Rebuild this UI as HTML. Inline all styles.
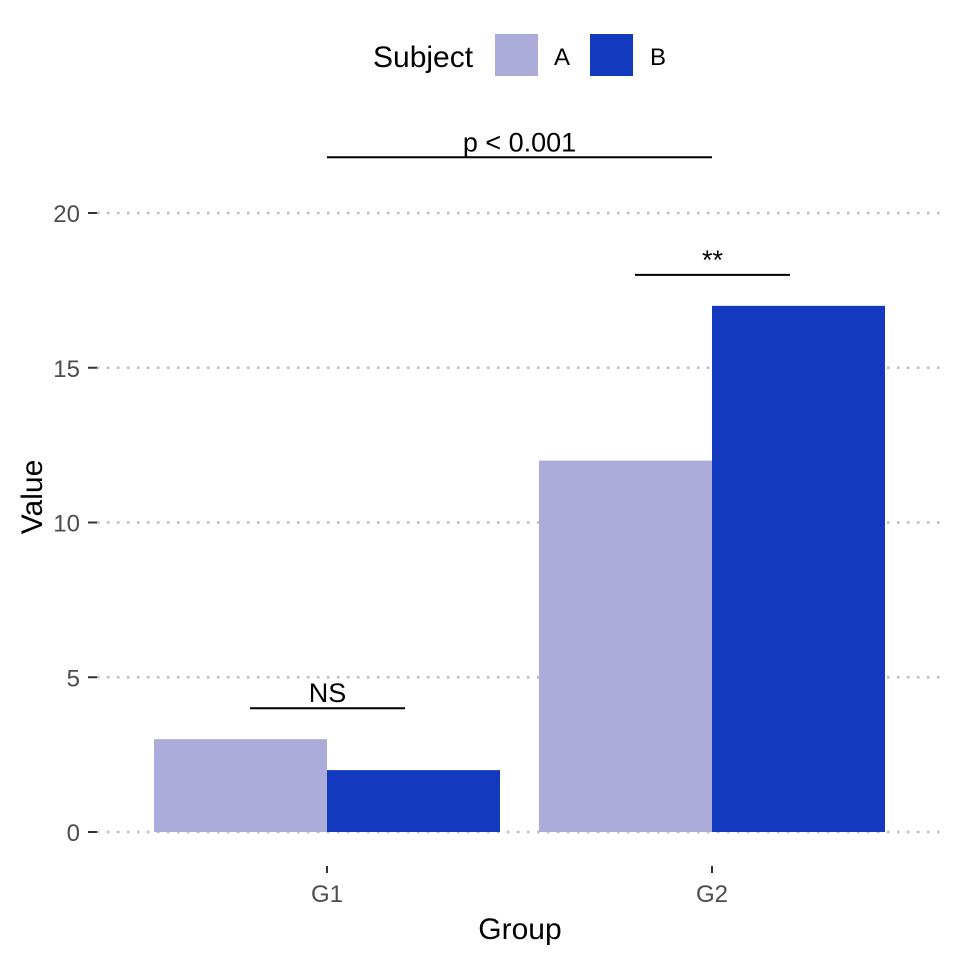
<!DOCTYPE html>
<html><head><meta charset="utf-8"><style>
body{margin:0;background:#fff}
text{font-family:"Liberation Sans",Arial,sans-serif}
</style></head><body>
<svg id="chart" width="960" height="960" xmlns="http://www.w3.org/2000/svg">
<g id="grid"></g>
<g id="bars"></g>
<g id="axes"></g>
<g id="ann"></g>
<text x="0" y="0" transform="translate(42,497) rotate(-90)" text-anchor="middle" font-size="30">Value</text>
<text x="520" y="939" text-anchor="middle" font-size="30">Group</text>
<g>
<text x="373" y="67" font-size="30">Subject</text>
<rect x="495" y="34" width="43" height="42" fill="#ACACDB"/>
<text x="554" y="65" font-size="24">A</text>
<rect x="590" y="34" width="43" height="42" fill="#1339BE"/>
<text x="650" y="65" font-size="24">B</text>
</g>
</svg>
<script>
const groups=["G1","G2"];
const seriesA=[3,12];
const seriesB=[2,17];
const yTicks=[0,5,10,15,20];
const annotations=[
 {label:"NS",y:4,x1:0,x2:0.4},
 {label:"**",y:18,x1:1,x2:1.4},
 {label:"p < 0.001",y:21.8,x1:0.5,x2:1.5}
];
const ns="http://www.w3.org/2000/svg";
const y=v=>832-v*30.95;
const gx=i=>327+i*385;
const bw=173;
function mk(tag,attrs,parent,txt){const e=document.createElementNS(ns,tag);for(const k in attrs)e.setAttribute(k,attrs[k]);if(txt!==undefined)e.textContent=txt;document.getElementById(parent).appendChild(e);return e;}
yTicks.forEach(t=>{
 const l=mk("line",{x1:97,x2:940,y1:y(t),y2:y(t),stroke:"#bbb","stroke-width":2.5,"stroke-dasharray":"2.5,7.5"},"grid");
 
 
 const tk=mk("line",{x1:88,x2:97,y1:y(t),y2:y(t),stroke:"#333","stroke-width":2},"axes");
 
 
 const tl=mk("text",{x:80,y:y(t)+9,"text-anchor":"end","font-size":24,fill:"#4d4d4d"},"axes",t);
 
 
});
groups.forEach((g,i)=>{
 const a=mk("rect",{x:gx(i)-bw,y:y(seriesA[i]),width:bw,height:y(0)-y(seriesA[i]),fill:"#ACACDB"},"bars");
 
 
 const b=mk("rect",{x:gx(i),y:y(seriesB[i]),width:bw,height:y(0)-y(seriesB[i]),fill:"#1339BE"},"bars");
 
 
 const tk=mk("line",{x1:gx(i),x2:gx(i),y1:866,y2:873,stroke:"#333","stroke-width":2},"axes");
 
 
 const tl=mk("text",{x:gx(i),y:902,"text-anchor":"middle","font-size":24,fill:"#4d4d4d"},"axes",g);
 
 
});
annotations.forEach(a=>{
 const c1=a.x1%1===0?gx(a.x1)-77:gx(a.x1-0.5), c2=a.x1%1===0?gx(a.x1)+78:gx(a.x2-0.5);
 const l=mk("line",{x1:c1,x2:c2,y1:y(a.y),y2:y(a.y),stroke:"#000","stroke-width":2},"ann");
 
 
 const t=mk("text",{x:(c1+c2)/2,y:y(a.y)-6,"text-anchor":"middle","font-size":27},"ann",a.label);
 
 
});
</script>
</body></html>
